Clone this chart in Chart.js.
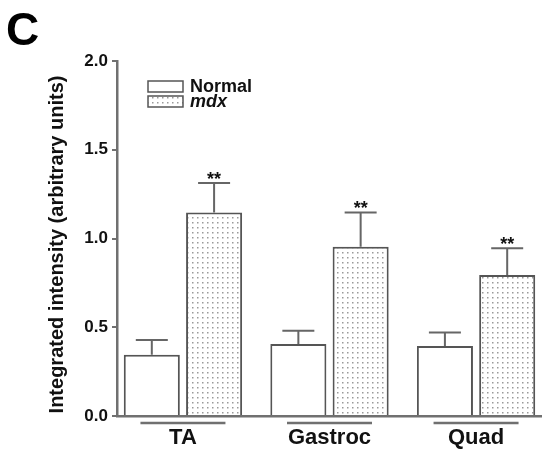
<!DOCTYPE html>
<html>
<head>
<meta charset="utf-8">
<script src="https://cdn.jsdelivr.net/npm/chart.js@4/dist/chart.umd.min.js"></script>
<style>
  html, body { margin: 0; padding: 0; background: #fff; overflow: hidden; }
</style>
</head>
<body>
<canvas id="chart" width="542" height="455"></canvas>
<script>
const categories = ['TA', 'Gastroc', 'Quad']
const seriesNames = ['Normal', 'mdx']
const normalMeans = [0.345, 0.405, 0.395]
const normalSem = [0.083, 0.075, 0.075]
const mdxMeans = [1.146, 0.954, 0.794]
const mdxSem = [0.167, 0.193, 0.151]
const mdxMarks = ['**', '**', '**']
const yTicks = [0, 0.5, 1.0, 1.5, 2.0]
const yTitle = 'Integrated intensity (arbitrary units)'

const FONT = '"Liberation Sans", Arial, sans-serif'
const AXIS = '#707070'
const OUTLINE = '#555'

// dotted fill for the mdx bars
function dotPattern() {
    const c = document.createElement('canvas')
    c.width = 5
    c.height = 5
    const g = c.getContext('2d')
    g.fillStyle = '#fff'
    g.fillRect(0, 0, 5, 5)
    g.fillStyle = '#9a9a9a'
    g.fillRect(2, 2, 1.5, 1.5)
    return g.createPattern(c, 'repeat')
}

const ctx = document.getElementById('chart')
const dots = dotPattern()

const extras = {
    id: 'extras',
    afterDatasetsDraw(chart) {
        const c = chart.ctx
        const ys = chart.scales.y
        c.save()
        c.strokeStyle = '#666'
        c.lineWidth = 2
        chart.data.datasets.forEach((ds, di) => {
            chart.getDatasetMeta(di).data.forEach((bar, i) => {
                const top = ys.getPixelForValue(ds.data[i].y + ds.errors[i])
                c.beginPath()
                c.moveTo(bar.x, bar.y)
                c.lineTo(bar.x, top)
                c.moveTo(bar.x - 16, top)
                c.lineTo(bar.x + 16, top)
                c.stroke()
                if (ds.marks) {
                    c.fillStyle = '#111'
                    c.font = 'bold 18px ' + FONT
                    c.textAlign = 'center'
                    c.textBaseline = 'alphabetic'
                    c.fillText(ds.marks[i], bar.x, top + 2)
                }
            })
        })
        c.restore()
    },
    afterDraw(chart) {
        const c = chart.ctx
        const xs = chart.scales.x
        const ys = chart.scales.y
        const area = chart.chartArea
        c.save()
        // group underlines
        c.strokeStyle = AXIS
        c.lineWidth = 2.5
        const uy = ys.getPixelForValue(0) + 7
        categories.forEach((cat, i) => {
            c.beginPath()
            c.moveTo(xs.getPixelForValue(i - 0.29), uy)
            c.lineTo(xs.getPixelForValue(i + 0.29), uy)
            c.stroke()
        })
        // legend
        const lx = area.left + 31
        const ly = area.top + 20
        chart.data.datasets.forEach((ds, di) => {
            const y = ly + di * 15
            c.fillStyle = ds.backgroundColor
            c.fillRect(lx, y, 35, 11)
            c.strokeStyle = OUTLINE
            c.lineWidth = 1.5
            c.strokeRect(lx, y, 35, 11)
            c.fillStyle = '#111'
            c.font = (di === 1 ? 'italic ' : '') + 'bold 18px ' + FONT
            c.textAlign = 'left'
            c.textBaseline = 'middle'
            c.fillText(ds.label, lx + 42, y + 6)
        })
        // y axis title, a bit below the middle of the axis like the original
        c.save()
        c.translate(57, (area.top + area.bottom) / 2 + 6)
        c.rotate(-Math.PI / 2)
        c.fillStyle = '#111'
        c.font = 'bold 20px ' + FONT
        c.textAlign = 'center'
        c.textBaseline = 'middle'
        c.fillText(yTitle, 0, 0)
        c.restore()
        // panel letter
        c.fillStyle = '#000'
        c.font = 'bold 46px ' + FONT
        c.textAlign = 'left'
        c.textBaseline = 'alphabetic'
        c.fillText('C', 6, 45)
        c.restore()
    }
}

new Chart(ctx, {
    type: 'bar',
    data: {
        datasets: [
            {
                label: seriesNames[0],
                data: categories.map((cat, i) => ({ x: i, y: normalMeans[i] })),
                errors: normalSem,
                backgroundColor: '#fff',
                borderColor: OUTLINE,
                borderWidth: 2,
            },
            {
                label: seriesNames[1],
                data: categories.map((cat, i) => ({ x: i, y: mdxMeans[i] })),
                errors: mdxSem,
                marks: mdxMarks,
                backgroundColor: dots,
                borderColor: OUTLINE,
                borderWidth: 2,
            },
        ],
    },
    options: {
        responsive: false,
        animation: false,
        categoryPercentage: 0.85,
        barPercentage: 0.9,
        layout: { padding: { top: 61, left: 0, right: 0, bottom: 0 } },
        plugins: {
            legend: { display: false },
            tooltip: { enabled: false },
        },
        scales: {
            x: {
                type: 'linear',
                offset: false,
                min: -0.45,
                max: 2.45,
                afterBuildTicks: (scale) => {
                    scale.ticks = categories.map((cat, i) => ({ value: i }))
                },
                afterFit: (scale) => { scale.height = 39 },
                grid: { display: false, drawTicks: false },
                border: { display: true, color: AXIS, width: 2.5 },
                ticks: {
                    padding: 9,
                    color: '#111',
                    font: { family: FONT, size: 22, weight: 'bold' },
                    callback: (v) => categories[v],
                },
            },
            y: {
                min: 0,
                max: 2,
                afterBuildTicks: (scale) => {
                    scale.ticks = yTicks.map((v) => ({ value: v }))
                },
                afterFit: (scale) => { scale.width = 117 },
                grid: { drawOnChartArea: false, drawTicks: true, tickLength: 5, color: AXIS, lineWidth: 2 },
                border: { display: true, color: AXIS, width: 2.5 },
                ticks: {
                    padding: 4,
                    color: '#111',
                    font: { family: FONT, size: 17, weight: 'bold' },
                    callback: (v) => v.toFixed(1),
                },
            },
        },
    },
    plugins: [extras],
})
</script>
</body>
</html>
